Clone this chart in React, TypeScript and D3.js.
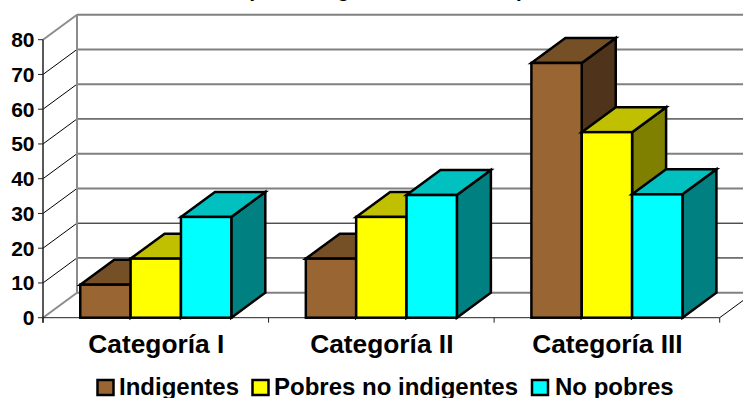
import * as d3 from "d3";

const categories = ["Categoría I", "Categoría II", "Categoría III"];
const seriesNames = ["Indigentes", "Pobres no indigentes", "No pobres"];
const indigentes = [9.5, 17, 73.3];
const pobresNoIndigentes = [17, 29, 53.4];
const noPobres = [29, 35.3, 35.5];
const seriesValues = [indigentes, pobresNoIndigentes, noPobres];
const yTicks = [0, 10, 20, 30, 40, 50, 60, 70, 80];
const darkGridTicks = [10, 20, 50];
const frontColors = ["#996633", "#ffff00", "#00ffff"];
const topColors = ["#755027", "#c0c000", "#00c0c0"];
const sideColors = ["#4f331a", "#808000", "#008080"];
const legendSwatchX = [97.5, 252.5, 532];
const legendTextX = [119, 274, 555];
const titleFragments: [string, number][] = [["(", 247], ["g", 337], [")", 517]];

const WIDTH = 743;
const HEIGHT = 398;
const DEPTH_X = 34;
const DEPTH_Y = 25;
const AXIS_LEFT = 43;
const AXIS_RIGHT = 719.7;
const WALL_LEFT = AXIS_LEFT + DEPTH_X;
const FONT = "'Liberation Sans', Arial, sans-serif";

const x0 = d3.scaleBand<string>().domain(categories).range([AXIS_LEFT, AXIS_RIGHT]);
const x1 = d3
  .scaleBand<number>()
  .domain([0, 1, 2])
  .range([0, x0.bandwidth()])
  .paddingInner(0)
  .paddingOuter(0.74);
const y = d3.scaleLinear().domain([0, 80]).range([317.7, 39.7]);

const poly = d3.line();

function Bar({ cat, s }: { cat: number; s: number }) {
  const left = x0(categories[cat])! + x1(s)!;
  const right = left + x1.bandwidth();
  const top = y(seriesValues[s][cat]);
  const bottom = y(0);
  const side: [number, number][] = [
    [right, top],
    [right + DEPTH_X, top - DEPTH_Y],
    [right + DEPTH_X, bottom - DEPTH_Y],
    [right, bottom],
  ];
  const lid: [number, number][] = [
    [left, top],
    [left + DEPTH_X, top - DEPTH_Y],
    [right + DEPTH_X, top - DEPTH_Y],
    [right, top],
  ];
  return (
    <g stroke="#000" strokeWidth={2.5} strokeLinejoin="miter">
      <path d={poly(side)! + "Z"} fill={sideColors[s]} />
      <path d={poly(lid)! + "Z"} fill={topColors[s]} />
      <rect x={left} y={top} width={right - left} height={bottom - top} fill={frontColors[s]} />
    </g>
  );
}

export default function App() {
  return (
    <svg
      width={WIDTH}
      height={HEIGHT}
      viewBox={`0 0 ${WIDTH} ${HEIGHT}`}
      style={{ position: "absolute", left: 0, top: 0, background: "#fff" }}
      fontFamily={FONT}
      fontWeight="bold"
    >
      {/* Descenders of the heading that runs off the top edge */}
      {titleFragments.map(([t, px]) => (
        <text key={px} x={px} y={-2.8} fontSize={21} fill="#000">
          {t}
        </text>
      ))}

      {/* Back wall gridlines and their diagonals on the side wall */}
      {yTicks.map((t) => {
        const dark = darkGridTicks.includes(t);
        const edge = t === 0 || t === 80;
        const gy = y(t);
        return (
          <g key={t}>
            <line
              x1={WALL_LEFT}
              x2={WIDTH}
              y1={gy - DEPTH_Y}
              y2={gy - DEPTH_Y}
              stroke={dark ? "#000" : "#808080"}
              strokeWidth={dark ? 1 : 2}
            />
            <line
              x1={AXIS_LEFT}
              y1={gy}
              x2={WALL_LEFT}
              y2={gy - DEPTH_Y}
              stroke={edge ? "#8c8c8c" : "#000"}
              strokeWidth={edge ? 2 : 1}
            />
            <line x1={38} x2={AXIS_LEFT} y1={gy} y2={gy} stroke="#222" strokeWidth={1} />
            <text x={34.5} y={gy + 7.5} textAnchor="end" fontSize={21} fill="#000">
              {t}
            </text>
          </g>
        );
      })}
      <line x1={WALL_LEFT} x2={WALL_LEFT} y1={y(80) - DEPTH_Y} y2={y(0) - DEPTH_Y} stroke="#8c8c8c" strokeWidth={2} />

      {/* Floor's front edge, axis line, and the right-hand diagonal */}
      <line x1={AXIS_LEFT} x2={AXIS_LEFT} y1={y(80)} y2={y(0) + 5} stroke="#222" strokeWidth={1.5} />
      <line x1={AXIS_LEFT} x2={AXIS_RIGHT} y1={y(0)} y2={y(0)} stroke="#222" strokeWidth={1} />
      {[...categories.map((c) => x0(c)!), AXIS_RIGHT].map((tx) => (
        <line key={tx} x1={tx} x2={tx} y1={y(0)} y2={y(0) + 5} stroke="#222" strokeWidth={1} />
      ))}
      <line x1={AXIS_RIGHT} y1={y(0)} x2={AXIS_RIGHT + DEPTH_X} y2={y(0) - DEPTH_Y} stroke="#000" strokeWidth={1} />

      {/* Bars, drawn left to right so each one overlaps the previous */}
      {categories.map((_, cat) =>
        seriesValues.map((_, s) => <Bar key={`${cat}-${s}`} cat={cat} s={s} />)
      )}

      {categories.map((c) => (
        <text
          key={c}
          x={x0(c)! + x0.bandwidth() / 2 + 0.5}
          y={353}
          textAnchor="middle"
          fontSize={26.3}
          fill="#000"
        >
          {c}
        </text>
      ))}

      {seriesNames.map((name, s) => (
        <g key={name}>
          <rect
            x={legendSwatchX[s]}
            y={380}
            width={16}
            height={15}
            fill={frontColors[s]}
            stroke="#000"
            strokeWidth={2.5}
          />
          <text x={legendTextX[s]} y={395} fontSize={24} fill="#000">
            {name}
          </text>
        </g>
      ))}
    </svg>
  );
}
